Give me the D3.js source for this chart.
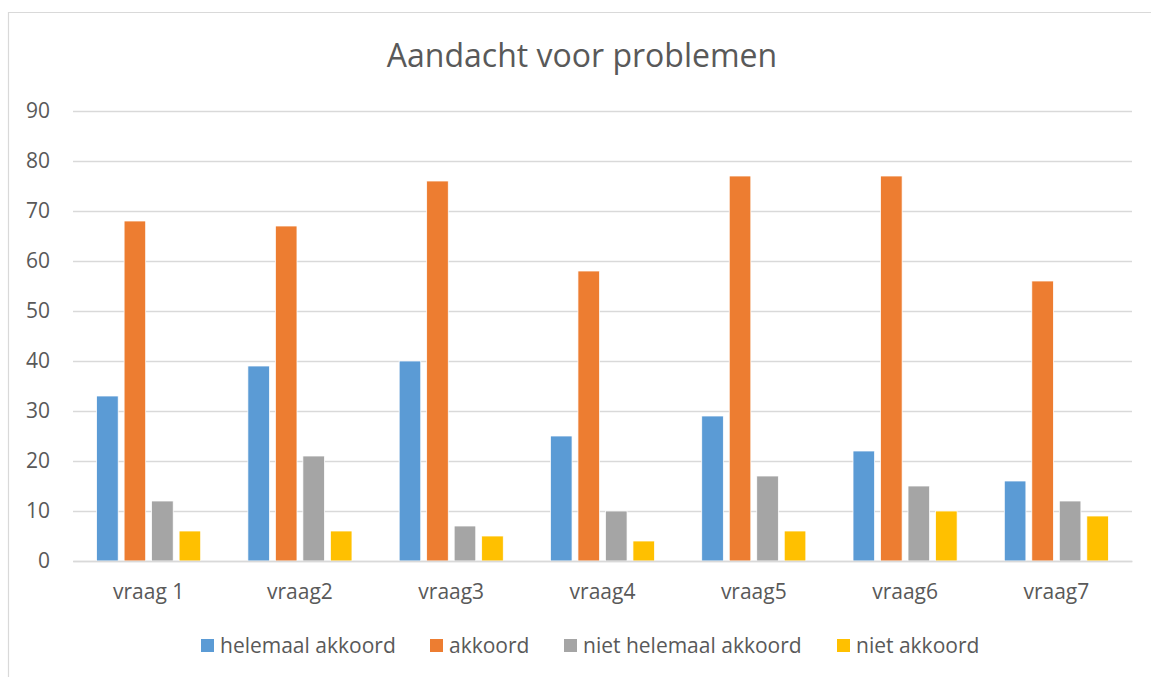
<!DOCTYPE html>
<html>
<head>
<meta charset="utf-8">
<script src="https://cdn.jsdelivr.net/npm/d3@7"></script>
<style>
  body { margin: 0; background: #fff; }
  svg { display: block; font-family: "Open Sans", sans-serif; }
</style>
</head>
<body>
<svg id="chart" width="1151" height="677"></svg>
<script>
// chart data
var title = "Aandacht voor problemen"
var categories = ["vraag 1", "vraag2", "vraag3", "vraag4", "vraag5", "vraag6", "vraag7"]
var seriesNames = ["helemaal akkoord", "akkoord", "niet helemaal akkoord", "niet akkoord"]
var seriesColors = ["#5B9BD5", "#ED7D31", "#A5A5A5", "#FFC000"]
var helemaalAkkoord = [33, 39, 40, 25, 29, 22, 16]
var akkoord = [68, 67, 76, 58, 77, 77, 56]
var nietHelemaalAkkoord = [12, 21, 7, 10, 17, 15, 12]
var nietAkkoord = [6, 6, 5, 4, 6, 10, 9]
var yTicks = [0, 10, 20, 30, 40, 50, 60, 70, 80, 90]

var seriesValues = [helemaalAkkoord, akkoord, nietHelemaalAkkoord, nietAkkoord]
var textColor = "#595959"
var gridColor = "#D9D9D9"

var svg = d3.select("#chart")

// outer chart border (only left and top are inside the picture)
svg.append("path")
    .attr("d", "M8.5,677 L8.5,12.5 L1151,12.5")
    .attr("fill", "none")
    .attr("stroke", gridColor)
    .attr("stroke-width", 1.2)

var plot = { left: 73, right: 1132, top: 111, bottom: 561 }

var x0 = d3.scaleBand()
    .domain(categories)
    .range([plot.left, plot.right])
    .padding(0)

var x1 = d3.scaleBand()
    .domain(seriesNames)
    .range([0, x0.bandwidth()])
    .paddingInner(0.215)
    .paddingOuter(0.858)

var y = d3.scaleLinear()
    .domain([0, 90])
    .range([plot.bottom, plot.top])

// title
svg.append("text")
    .attr("x", 582)
    .attr("y", 67)
    .attr("text-anchor", "middle")
    .attr("font-size", 32)
    .attr("fill", textColor)
    .text(title)

// gridlines + tick labels through a d3 axis
var yAxis = d3.axisLeft(y)
    .tickValues(yTicks)
    .tickSize(-(plot.right - plot.left))
    .tickPadding(23)

var gy = svg.append("g")
    .attr("transform", "translate(" + plot.left + ",0)")
    .call(yAxis)

gy.select(".domain").remove()
gy.selectAll(".tick line")
    .attr("stroke", gridColor)
    .attr("stroke-width", 1.3)
gy.selectAll(".tick text")
    .attr("fill", textColor)
    .attr("font-size", 21)
    .attr("font-family", "Open Sans, sans-serif")

// bars
var groups = svg.append("g").selectAll("g")
    .data(categories)
    .enter()
    .append("g")
    .attr("transform", function(d) {
        return "translate(" + x0(d) + ",0)"
    })

groups.selectAll("rect")
    .data(function(d, i) {
        return seriesNames.map(function(s, j) {
            return { series: s, value: seriesValues[j][i], color: seriesColors[j] }
        })
    })
    .enter()
    .append("rect")
    .attr("x", function(d) { return x1(d.series) })
    .attr("width", x1.bandwidth())
    .attr("y", function(d) { return y(d.value) })
    .attr("height", function(d) { return y(0) - y(d.value) })
    .attr("fill", function(d) { return d.color })
    .attr("stroke", "#fff")
    .attr("stroke-width", 0.75)

// category axis labels
var xAxis = d3.axisBottom(x0).tickSize(0).tickPadding(23)
var gx = svg.append("g")
    .attr("transform", "translate(0," + plot.bottom + ")")
    .call(xAxis)
gx.select(".domain")
    .attr("stroke", gridColor)
    .attr("stroke-width", 1.3)
gx.selectAll(".tick text")
    .attr("fill", textColor)
    .attr("font-size", 21)
    .attr("font-family", "Open Sans, sans-serif")

// legend
var legendX = [201, 430, 564, 837]
var legend = svg.append("g").selectAll("g")
    .data(seriesNames)
    .enter()
    .append("g")
    .attr("transform", function(d, i) {
        return "translate(" + legendX[i] + ",639)"
    })

legend.append("rect")
    .attr("width", 13)
    .attr("height", 13)
    .attr("fill", function(d, i) { return seriesColors[i] })

legend.append("text")
    .attr("x", 19)
    .attr("y", 14)
    .attr("font-size", 21)
    .attr("fill", textColor)
    .text(function(d) { return d })
</script>
</body>
</html>
